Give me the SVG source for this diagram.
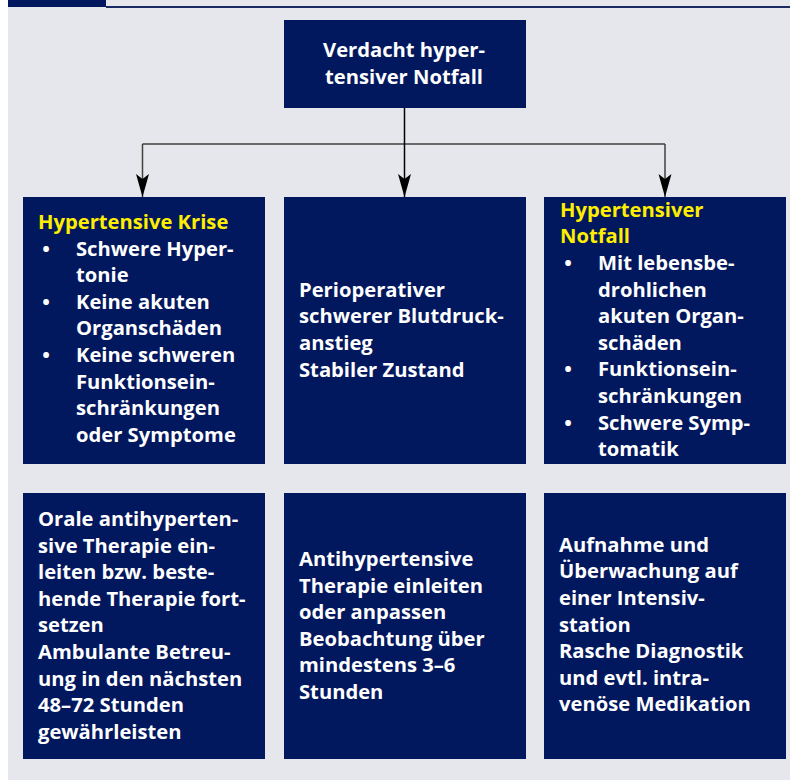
<svg xmlns="http://www.w3.org/2000/svg" width="790" height="780" viewBox="0 0 790 780">
<style>
.box{fill:#02185e}
.t{font-family:"Open Sans","Liberation Sans",sans-serif;font-weight:bold;font-size:20.2px;fill:#ffffff}
.h{fill:#ffee00}
.c{text-anchor:middle}
.conn{fill:none;stroke-width:1.5}
</style>
<defs>
<marker id="ah" viewBox="0 -7 24 14" refX="23" refY="0" markerWidth="24" markerHeight="14" markerUnits="userSpaceOnUse" orient="auto">
<path d="M0,-6.5 L23,0 L0,6.5 L5,0 Z" fill="#000"/>
</marker>
</defs>
<rect x="0" y="0" width="790" height="780" fill="#ffffff"/>
<rect x="8" y="0" width="782" height="780" fill="#e6e7ec"/>
<rect x="8" y="0" width="98" height="7" fill="#02185e"/>
<rect x="106" y="6" width="684" height="2" fill="#1c2a62"/>

<g id="connectors">
<path class="conn" d="M142.5,144 H665" stroke="#404040"/>
<path class="conn" d="M142.5,144 V197" stroke="#404040" marker-end="url(#ah)"/>
<path class="conn" d="M665,144 V197" stroke="#404040" marker-end="url(#ah)"/>
<path class="conn" d="M404.5,104 V197" stroke="#000" marker-end="url(#ah)"/>
</g>

<g id="n-verdacht">
<rect class="box" x="284" y="20" width="242" height="88"/>
<text class="t c" x="404" y="57">Verdacht hyper-</text>
<text class="t c" x="404" y="83.6">tensiver Notfall</text>
</g>

<g id="n-krise">
<rect class="box" x="23" y="197" width="242" height="267"/>
<text class="t h" x="38" y="229">Hypertensive Krise</text>
<text class="t c" x="46" y="255.6">•</text>
<text class="t" x="76" y="255.6">Schwere Hyper-</text>
<text class="t" x="76" y="282.2">tonie</text>
<text class="t c" x="46" y="308.8">•</text>
<text class="t" x="76" y="308.8">Keine akuten</text>
<text class="t" x="76" y="335.4">Organschäden</text>
<text class="t c" x="46" y="362">•</text>
<text class="t" x="76" y="362">Keine schweren</text>
<text class="t" x="76" y="388.6">Funktionsein-</text>
<text class="t" x="76" y="415.2">schränkungen</text>
<text class="t" x="76" y="441.8">oder Symptome</text>
</g>

<g id="n-periop">
<rect class="box" x="284" y="197" width="242" height="267"/>
<text class="t" x="299" y="296.7">Perioperativer</text>
<text class="t" x="299" y="323.3">schwerer Blutdruck-</text>
<text class="t" x="299" y="349.9">anstieg</text>
<text class="t" x="299" y="376.5">Stabiler Zustand</text>
</g>

<g id="n-notfall">
<rect class="box" x="544" y="197" width="242" height="267"/>
<text class="t h" x="560" y="216.7">Hypertensiver</text>
<text class="t h" x="560" y="243.3">Notfall</text>
<text class="t c" x="568" y="269.9">•</text>
<text class="t" x="598" y="269.9">Mit lebensbe-</text>
<text class="t" x="598" y="296.5">drohlichen</text>
<text class="t" x="598" y="323.1">akuten Organ-</text>
<text class="t" x="598" y="349.7">schäden</text>
<text class="t c" x="568" y="376.3">•</text>
<text class="t" x="598" y="376.3">Funktionsein-</text>
<text class="t" x="598" y="402.9">schränkungen</text>
<text class="t c" x="568" y="429.5">•</text>
<text class="t" x="598" y="429.5">Schwere Symp-</text>
<text class="t" x="598" y="456.1">tomatik</text>
</g>

<g id="n-oral">
<rect class="box" x="23" y="493" width="242" height="266"/>
<text class="t" x="38" y="526">Orale antihyperten-</text>
<text class="t" x="38" y="552.6">sive Therapie ein-</text>
<text class="t" x="38" y="579.2">leiten bzw. beste-</text>
<text class="t" x="38" y="605.8">hende Therapie fort-</text>
<text class="t" x="38" y="632.4">setzen</text>
<text class="t" x="38" y="659">Ambulante Betreu-</text>
<text class="t" x="38" y="685.6">ung in den nächsten</text>
<text class="t" x="38" y="712.2">48–72 Stunden</text>
<text class="t" x="38" y="738.8">gewährleisten</text>
</g>

<g id="n-antihyp">
<rect class="box" x="284" y="493" width="242" height="266"/>
<text class="t" x="299" y="566">Antihypertensive</text>
<text class="t" x="299" y="592.6">Therapie einleiten</text>
<text class="t" x="299" y="619.2">oder anpassen</text>
<text class="t" x="299" y="645.8">Beobachtung über</text>
<text class="t" x="299" y="672.4">mindestens 3–6</text>
<text class="t" x="299" y="699">Stunden</text>
</g>

<g id="n-intensiv">
<rect class="box" x="544" y="493" width="242" height="266"/>
<text class="t" x="559" y="551.7">Aufnahme und</text>
<text class="t" x="559" y="578.3">Überwachung auf</text>
<text class="t" x="559" y="604.9">einer Intensiv-</text>
<text class="t" x="559" y="631.5">station</text>
<text class="t" x="559" y="658.1">Rasche Diagnostik</text>
<text class="t" x="559" y="684.7">und evtl. intra-</text>
<text class="t" x="559" y="711.3">venöse Medikation</text>
</g>
</svg>
